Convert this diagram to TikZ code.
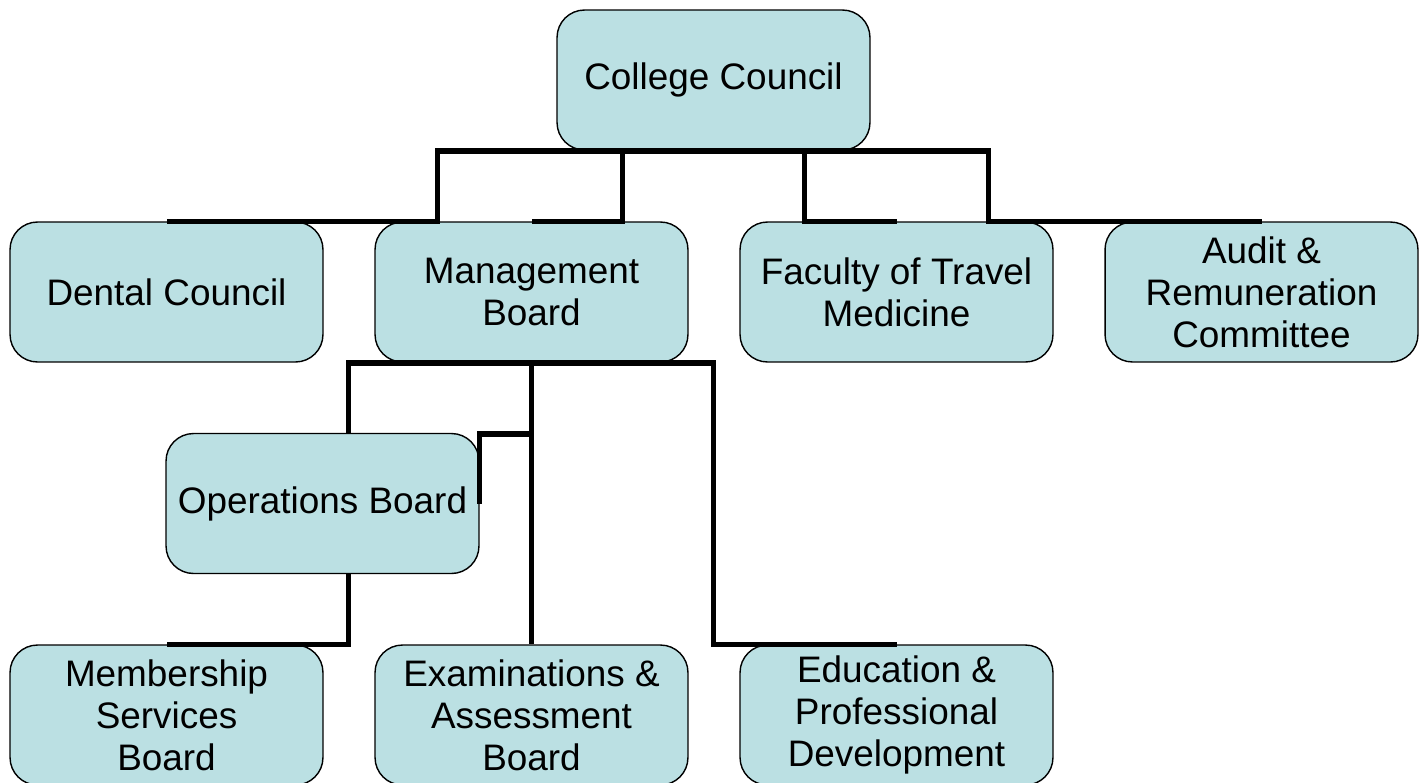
\documentclass[tikz,border=0pt]{standalone}
\usepackage{fontspec}
\setmainfont{Liberation Sans}
\definecolor{boxfill}{RGB}{187,224,227}
\begin{document}
\begin{tikzpicture}[x=0.02cm,y=-0.02cm,
    box/.style={draw=black,line width=0.8pt,fill=boxfill,rounded corners=0.55cm,
        minimum width=6.26cm,minimum height=2.8cm,inner sep=0pt,align=center,
        font=\fontsize{21}{24}\selectfont},
    link/.style={draw=black,line width=3.2pt}]
        \useasboundingbox (0,0) rectangle (1422,782);
        \node[box] (cc) at (713.5,80) {College Council};
        \node[box] (dental) at (166.5,292) {Dental Council};
        \node[box] (mb) at (531.5,292) {Management\\Board};
        \node[box] (faculty) at (896.5,292) {Faculty of Travel\\Medicine};
        \node[box] (audit) at (1261.5,292) {Audit \&\\Remuneration\\Committee};
        \node[box] (ops) at (322.5,503.5) {Operations Board};
        \node[box] (member) at (166.5,715) {Membership\\Services\\Board};
        \node[box] (exams) at (531.5,715) {Examinations \&\\Assessment\\Board};
        \node[box] (edu) at (896.5,715) {Education \&\\Professional\\Development};
        % College Council
        \draw[link] (cc.south) -- ++(-276,0) |- (dental.north);
        \draw[link] (cc.south) -- ++(-91,0) |- (mb.north);
        \draw[link] (cc.south) -- ++(91,0) |- (faculty.north);
        \draw[link] (cc.south) -- ++(275,0) |- (audit.north);
        % Management Board
        \draw[link] (mb.south) -| ([xshift=0.52cm]ops.north);
        \draw[link] (mb.south) -- ++(0,71) -| (ops.east);
        \draw[link] (mb.south) -- (exams.north);
        \draw[link] (mb.south) -- ++(182,0) |- (edu.north);
        % Operations Board
        \draw[link] ([xshift=0.52cm]ops.south) |- (member.north);
    \end{tikzpicture}
\end{document}
